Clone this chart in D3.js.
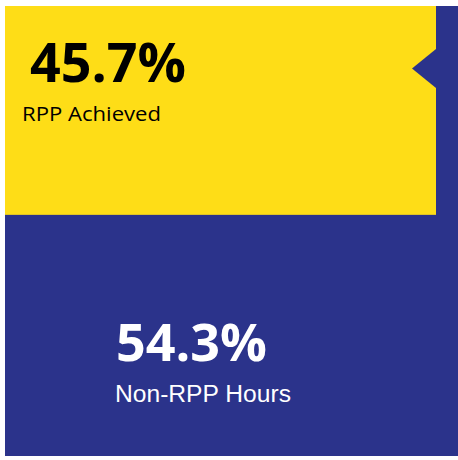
<!DOCTYPE html>
<html>
<head>
<meta charset="utf-8">
<script src="https://cdn.jsdelivr.net/npm/d3@7"></script>
<style>
  body { margin: 0; background: #fff; }
  svg { display: block; }
</style>
</head>
<body>
<div id="chart"></div>
<script>
// shares of total hours
var categories = ["RPP Achieved", "Non-RPP Hours"];
var shares = [45.7, 54.3];
var labels = ["45.7%", "54.3%"];
var colors = ["#fedd17", "#2b338b"];

var width = 458, height = 460;
var panel = {x: 5, y: 6, w: 453, h: 450};

var svg = d3.select("#chart").append("svg")
  .attr("width", width)
  .attr("height", height);

// vertical scale: share -> height of the yellow block
var y = d3.scaleLinear()
  .domain([0, 100])
  .range([0, 457]);

// blue background = whole panel
svg.append("rect")
  .attr("x", panel.x)
  .attr("y", panel.y)
  .attr("width", panel.w)
  .attr("height", panel.h)
  .attr("fill", colors[1]);

var yellowW = 431;
var yellowH = y(shares[0]);

svg.append("rect")
  .attr("x", panel.x)
  .attr("y", panel.y)
  .attr("width", yellowW)
  .attr("height", yellowH)
  .attr("fill", colors[0]);

// pointer notch on the right edge of the yellow block
var nx = panel.x + yellowW;
svg.append("path")
  .attr("d", "M" + nx + ",49 L" + (nx - 24) + ",68.5 L" + nx + ",88 Z")
  .attr("fill", colors[1]);

// labels; widths fitted to the reference
function label(x, yPos, txt, family, weight, size, fill, len) {
  var t = svg.append("text")
    .attr("x", x)
    .attr("y", yPos)
    .attr("font-family", family)
    .attr("font-weight", weight)
    .attr("font-size", size)
    .attr("fill", fill)
    .text(txt);
  if (len) t.attr("textLength", len).attr("lengthAdjust", "spacingAndGlyphs");
  return t;
}

label(30, 82, labels[0], "'Open Sans', sans-serif", "bold", 54, "#000", 156);
label(22, 120.5, categories[0], "'Open Sans', sans-serif", "normal", 20, "#000", 139);
label(116, 360.5, labels[1], "'Open Sans', sans-serif", "bold", 52, "#fff", 151);
label(115, 401.5, categories[1], "'Liberation Sans', Arial, sans-serif", "normal", 24.5, "#fff", 176);
</script>
</body>
</html>
